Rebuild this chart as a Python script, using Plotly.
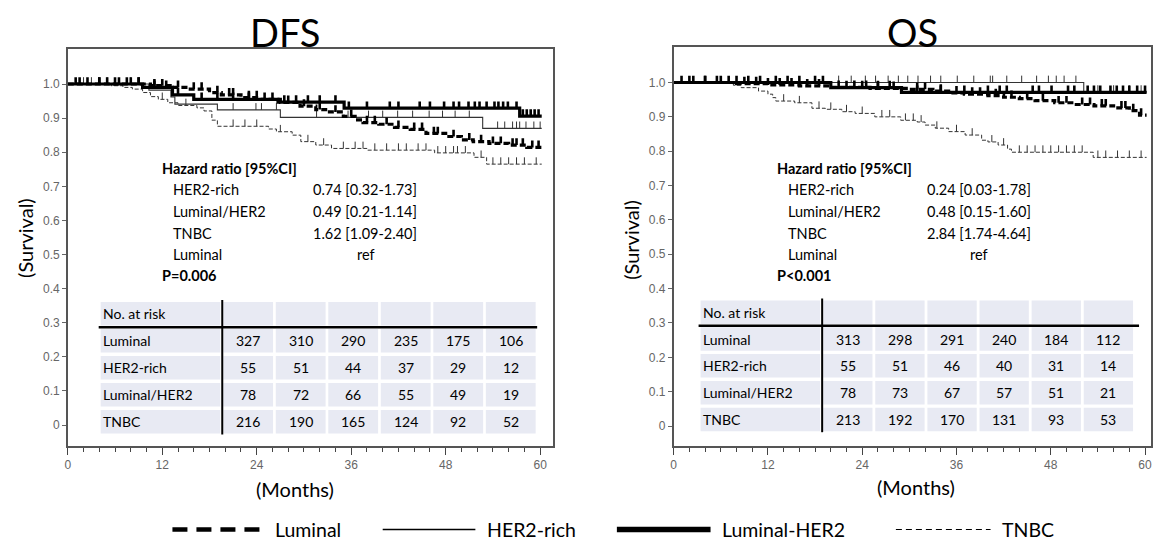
import numpy as np
import plotly.graph_objects as go

W, H = 1161, 550
OFF = 8  # page body margin of the browser
FW, FH = W - 2 * OFF, H - 2 * OFF

# ---------------- data ----------------
panel_titles = ["DFS", "OS"]
groups = ["Luminal", "HER2-rich", "Luminal/HER2", "TNBC"]
legend_names = ["Luminal", "HER2-rich", "Luminal-HER2", "TNBC"]
x_tick_vals = [0, 12, 24, 36, 48, 60]
y_tick_vals = [0, 0.1, 0.2, 0.3, 0.4, 0.5, 0.6, 0.7, 0.8, 0.9, 1.0]
y_tick_text = ["0", "0.1", "0.2", "0.3", "0.4", "0.5", "0.6", "0.7", "0.8", "0.9", "1.0"]
follow_up_end = 60.2

# DFS step curves (time of step, survival after step)
dfs_lum_t = [0, 10.5, 13, 15, 18, 19.5, 22, 24.5, 27, 29.5, 31.5, 33, 35, 36.5, 37.5, 39.5, 41.5, 43.5, 45.5, 48, 50, 51.5, 53.5, 56, 58.3]
dfs_lum_s = [1.0, 0.995, 0.99, 0.985, 0.975, 0.968, 0.96, 0.955, 0.946, 0.935, 0.925, 0.918, 0.905, 0.895, 0.887, 0.882, 0.873, 0.867, 0.855, 0.846, 0.836, 0.831, 0.826, 0.821, 0.814]
dfs_lum_c = [1, 2.5, 4, 5, 6.5, 8, 9, 11, 12, 14, 16, 17, 19, 20.5, 21, 23, 24, 26, 28, 30, 32, 34, 36, 38, 39, 40.5, 42, 44, 45, 46.5, 47, 49, 51, 52.5, 54, 55, 56.5, 57, 57.8, 59, 59.8]

dfs_her_t = [0, 10.3, 13.1, 13.6, 19, 27, 52.7]
dfs_her_s = [1.0, 0.982, 0.962, 0.941, 0.924, 0.902, 0.870]
dfs_her_c = [2, 5, 8, 21, 23.9, 24.6, 26.5, 31.6, 35.6, 38.2, 40, 41.9, 43.8, 45.9, 47.6, 49.2, 51, 54.6, 55.5, 56.5, 57, 57.4, 58.2, 59.2, 60]

dfs_lh_t = [0, 9.5, 13.3, 16, 26.7, 35.1, 57.4]
dfs_lh_s = [1.0, 0.99, 0.968, 0.955, 0.947, 0.929, 0.906]
dfs_lh_c = [1.5, 4, 6, 7.5, 9, 11, 12.5, 14, 17, 19, 21, 23, 25, 27.5, 29, 30.5, 32, 34, 35.7, 38, 40.9, 42, 44.7, 46, 47.8, 49, 49.7, 50.9, 51.7, 52.3, 53.2, 54.2, 54.7, 55.3, 55.9, 57, 57.8, 58.3, 58.8, 59.3, 59.8]

dfs_tn_t = [0, 5.5, 7, 8.2, 9.5, 10.5, 11.5, 12.7, 14, 16.4, 17.3, 18.3, 19, 25.5, 26.5, 28.5, 29.6, 31.5, 33.5, 38, 46.6, 51.6, 53.2]
dfs_tn_s = [1.0, 0.995, 0.99, 0.985, 0.975, 0.963, 0.955, 0.945, 0.937, 0.93, 0.921, 0.894, 0.876, 0.868, 0.86, 0.85, 0.831, 0.821, 0.811, 0.806, 0.798, 0.785, 0.765]
dfs_tn_c = [3, 6, 12, 15, 21, 22.5, 24, 27, 30.5, 32.5, 35, 36.5, 37.5, 39, 40.5, 42, 43, 44.5, 45.5, 47, 48, 49, 49.5, 50.5, 52.5, 54, 55, 56, 57, 58, 59.5]

# OS step curves
os_lum_t = [0, 8, 12, 16, 20, 25, 30, 33, 35, 37, 40, 42, 44, 46, 48.5, 51, 53.5, 56, 58, 59.3]
os_lum_s = [1.0, 0.997, 0.993, 0.99, 0.986, 0.983, 0.98, 0.975, 0.97, 0.966, 0.962, 0.957, 0.953, 0.947, 0.941, 0.936, 0.932, 0.926, 0.918, 0.905]
os_lum_c = [1, 2.5, 4, 5.5, 7, 9, 10.5, 12, 13.5, 15, 17, 18.5, 21, 23, 24.5, 26, 28, 31, 32, 34, 36, 38, 39, 41, 43, 45, 47, 49, 50, 52, 53, 54.5, 55, 57, 57.5, 58.5, 59.5]

os_her_t = [0, 52.2]
os_her_s = [1.0, 0.972]
os_her_c = [21, 22.6, 24.4, 25.7, 27.3, 28.6, 29.8, 31.1, 32.7, 34, 36.1, 38.2, 40.3, 40.6, 42.4, 44.3, 46.2, 47.7, 48.7, 49.7, 51.2, 54, 56, 58, 59.5]

os_lh_t = [0, 20, 29]
os_lh_s = [1.0, 0.985, 0.971]
os_lh_c = [2, 4, 6, 8, 9.5, 11, 13, 14.5, 16, 18, 19, 22, 24, 26, 27.5, 31, 34, 37, 40, 41.5, 42.4, 45.7, 46.5, 48.1, 50.2, 51, 52.7, 53.5, 54.3, 55.6, 56.4, 57.2, 58, 59, 60]

os_tn_t = [0, 5.7, 7.6, 8.6, 10.8, 12, 12.6, 13, 15.4, 17.6, 19.3, 21.4, 23.1, 25.6, 28.9, 31, 32, 33.3, 35, 37.1, 39.2, 40, 41.3, 42.5, 43, 53.4]
os_tn_s = [1.0, 0.998, 0.992, 0.985, 0.975, 0.966, 0.956, 0.946, 0.941, 0.925, 0.922, 0.915, 0.91, 0.90, 0.89, 0.885, 0.876, 0.867, 0.857, 0.847, 0.832, 0.827, 0.818, 0.806, 0.797, 0.782]
os_tn_c = [14, 16, 18.5, 20, 22, 24, 26.5, 27.5, 29.5, 30.5, 31.5, 33.5, 36, 38, 40.5, 42, 44, 45, 46, 47, 48, 49, 50, 51, 52, 54, 55, 56.5, 58, 59.5]

# hazard ratios
hr_rows = ["HER2-rich", "Luminal/HER2", "TNBC", "Luminal"]
dfs_hr = ["0.74 [0.32-1.73]", "0.49 [0.21-1.14]", "1.62 [1.09-2.40]", "ref"]
os_hr = ["0.24 [0.03-1.78]", "0.48 [0.15-1.60]", "2.84 [1.74-4.64]", "ref"]
dfs_p = "P=0.006"
os_p = "P<0.001"

# numbers at risk
dfs_risk_luminal = [327, 310, 290, 235, 175, 106]
dfs_risk_her2 = [55, 51, 44, 37, 29, 12]
dfs_risk_lumher2 = [78, 72, 66, 55, 49, 19]
dfs_risk_tnbc = [216, 190, 165, 124, 92, 52]
os_risk_luminal = [313, 298, 291, 240, 184, 112]
os_risk_her2 = [55, 51, 46, 40, 31, 14]
os_risk_lumher2 = [78, 73, 67, 57, 51, 21]
os_risk_tnbc = [213, 192, 170, 131, 93, 53]

# ---------------- styles ----------------
STYLE = {
    "Luminal": dict(width=3.2, dash="6px,3px", color="#000000", cth=2.6),
    "HER2-rich": dict(width=1.1, dash="solid", color="#333333", cth=1.0),
    "Luminal/HER2": dict(width=3.2, dash="solid", color="#000000", cth=2.6),
    "TNBC": dict(width=1.0, dash="4px,2px", color="#333333", cth=1.0),
}
FONT = "Lato"
TICKFONT = dict(family="Liberation Sans, Arial", size=12, color="#666666")


def px(x):
    return (x - OFF) / FW


def py(y):
    return 1 - (y - OFF) / FH


fig = go.Figure()

panels = [
    dict(xa="x", ya="y",
         curves=[(dfs_lum_t, dfs_lum_s, dfs_lum_c), (dfs_her_t, dfs_her_s, dfs_her_c),
                 (dfs_lh_t, dfs_lh_s, dfs_lh_c), (dfs_tn_t, dfs_tn_s, dfs_tn_c)]),
    dict(xa="x2", ya="y2",
         curves=[(os_lum_t, os_lum_s, os_lum_c), (os_her_t, os_her_s, os_her_c),
                 (os_lh_t, os_lh_s, os_lh_c), (os_tn_t, os_tn_s, os_tn_c)]),
]

draw_order = [3, 1, 0, 2]
for p in panels:
    for gi in draw_order:
        t, s, c = p["curves"][gi]
        st = STYLE[groups[gi]]
        tt = list(t) + [follow_up_end]
        ss = list(s) + [s[-1]]
        fig.add_trace(go.Scatter(x=tt, y=ss, mode="lines", line_shape="hv",
                                 line=dict(color=st["color"], width=st["width"], dash=st["dash"]),
                                 xaxis=p["xa"], yaxis=p["ya"], showlegend=False, hoverinfo="skip"))
        ta = np.array(t)
        sa = np.array(s)
        idx = np.searchsorted(ta, np.array(c), side="right") - 1
        cy = sa[idx]
        fig.add_trace(go.Scatter(x=c, y=cy, mode="markers",
                                 marker=dict(size=1, color="rgba(0,0,0,0)"),
                                 error_y=dict(type="constant", symmetric=False, value=0.02, valueminus=0,
                                              width=0, thickness=st["cth"], color=st["color"]),
                                 xaxis=p["xa"], yaxis=p["ya"], showlegend=False, hoverinfo="skip"))

# axes geometry (pixel based)
def axes(left, right, x0px, x60px, top, bottom, y1px, y0px):
    per_m = (x60px - x0px) / 60.0
    xr = [-(x0px - left) / per_m, (right - x0px) / per_m]
    per_u = (y0px - y1px)
    yr = [-(bottom - y0px) / per_u, (y0px - top) / per_u]
    return [px(left), px(right)], xr, [py(bottom), py(top)], yr

xd1, xr1, yd1, yr1 = axes(65, 552, 65, 539, 49, 446, 84, 425)
xd2, xr2, yd2, yr2 = axes(673, 1152, 673, 1146, 47, 446, 82.5, 426)

xcommon = dict(tickvals=x_tick_vals, ticks="outside", ticklen=7, tickwidth=1.3, tickcolor="#444444",
               minor=dict(dtick=2, tick0=0, ticks="outside", ticklen=4, tickcolor="#444444", tickwidth=1),
               showgrid=False, zeroline=False, showline=True, linecolor="#555555", linewidth=1.5,
               mirror=True, tickfont=TICKFONT, fixedrange=True)
ycommon = dict(tickvals=y_tick_vals, ticktext=y_tick_text, ticks="outside", ticklen=4, tickwidth=1,
               tickcolor="#666666", showgrid=False, zeroline=False, showline=True, linecolor="#555555",
               linewidth=1.5, mirror=True, tickfont=TICKFONT, fixedrange=True)

fig.update_layout(
    width=FW, height=FH, margin=dict(l=0, r=0, t=0, b=0),
    paper_bgcolor="white", plot_bgcolor="white", showlegend=False,
    xaxis=dict(domain=xd1, range=xr1, anchor="y", **xcommon),
    yaxis=dict(domain=yd1, range=yr1, anchor="x", **ycommon),
    xaxis2=dict(domain=xd2, range=xr2, anchor="y2", **xcommon),
    yaxis2=dict(domain=yd2, range=yr2, anchor="x2", **ycommon),
)

shapes = []
ann = []


def text(x, y, s, size=14.5, bold=False, anchor="left", angle=0, color="#000000", family=FONT, yanchor="middle"):
    ann.append(dict(x=px(x), y=py(y), xref="paper", yref="paper", text=("<b>%s</b>" % s) if bold else s,
                    showarrow=False, xanchor=anchor, yanchor=yanchor, textangle=angle, borderpad=0,
                    font=dict(family=family, size=size, color=color)))


def rect(x0, y0, x1, y1, fill):
    shapes.append(dict(type="rect", xref="paper", yref="paper", x0=px(x0), x1=px(x1), y0=py(y1), y1=py(y0),
                       fillcolor=fill, line=dict(width=0), layer="below"))


def line(x0, y0, x1, y1, width, color="#000000", dash="solid"):
    shapes.append(dict(type="line", xref="paper", yref="paper", x0=px(x0), x1=px(x1), y0=py(y0), y1=py(y1),
                       line=dict(width=width, color=color, dash=dash)))


# titles and axis labels
text(283, 8.5, panel_titles[0], size=38, anchor="center", yanchor="top")
text(913, 8.5, panel_titles[1], size=38, anchor="center", yanchor="top")
text(22, 238, "(Survival)", size=20, anchor="center", angle=-90)
text(630, 240, "(Survival)", size=20, anchor="center", angle=-90)
text(293, 489, "(Months)", size=20, anchor="center")
text(916, 487, "(Months)", size=20, anchor="center")

# hazard ratio blocks
def hr_block(x_head, x_lab, x_val, x_ref, vals, pstr):
    text(x_head, 169, "Hazard ratio [95%CI]", bold=True)
    ys = [190, 211.5, 233, 254]
    for i, (r, v) in enumerate(zip(hr_rows, vals)):
        text(x_lab, ys[i], r)
        text(x_ref if v == "ref" else x_val, ys[i], v)
    text(x_head, 275.5, pstr, bold=True)

hr_block(159, 170, 310, 354, dfs_hr, dfs_p)
hr_block(776, 787, 926, 969, os_hr, os_p)

# number-at-risk tables
FILL = "#E8EAF3"

def risk_table(x_left, x_div, x_right_line, col_w, pitch, row_top, row_pitch, row_h, rows):
    labels = ["No. at risk"] + groups
    for r in range(5):
        y0 = row_top + r * row_pitch
        rect(x_left, y0, x_div - 2, y0 + row_h, FILL)
        text(x_left + 1.5, y0 + row_h / 2, labels[r], size=14)
        for c in range(6):
            cx0 = x_div + 1 + c * pitch
            rect(cx0, y0, cx0 + col_w, y0 + row_h, FILL)
            if r > 0:
                text(cx0 + col_w / 2, y0 + row_h / 2, str(rows[r - 1][c]), size=14, anchor="center")
    line(x_div, row_top - 2, x_div, row_top + 4 * row_pitch + row_h + 1, 2)
    yl = row_top + row_h + (row_pitch - row_h) / 2
    line(x_left - 2, yl, x_right_line, yl, 2.5)

risk_table(98, 220, 536, 50, 52.7, 302, 27, 23.5,
           [dfs_risk_luminal, dfs_risk_her2, dfs_risk_lumher2, dfs_risk_tnbc])
risk_table(700, 822, 1140, 49.5, 52.3, 300.5, 26.8, 23.5,
           [os_risk_luminal, os_risk_her2, os_risk_lumher2, os_risk_tnbc])

# legend
LY = 529.5
line(170, LY, 263, LY, 4.5, dash="15px,9px")
text(272, LY, legend_names[0], size=19.5)
line(381, LY, 474, LY, 1.5)
text(485, LY, legend_names[1], size=19.5)
line(616, LY, 710, LY, 5.5)
text(720, LY, legend_names[2], size=19.5)
line(896, LY, 991, LY, 1.2, dash="6px,4px")
text(1001, LY, legend_names[3], size=19.5)

fig.update_layout(shapes=shapes, annotations=ann)
fig.write_html("out.html")
